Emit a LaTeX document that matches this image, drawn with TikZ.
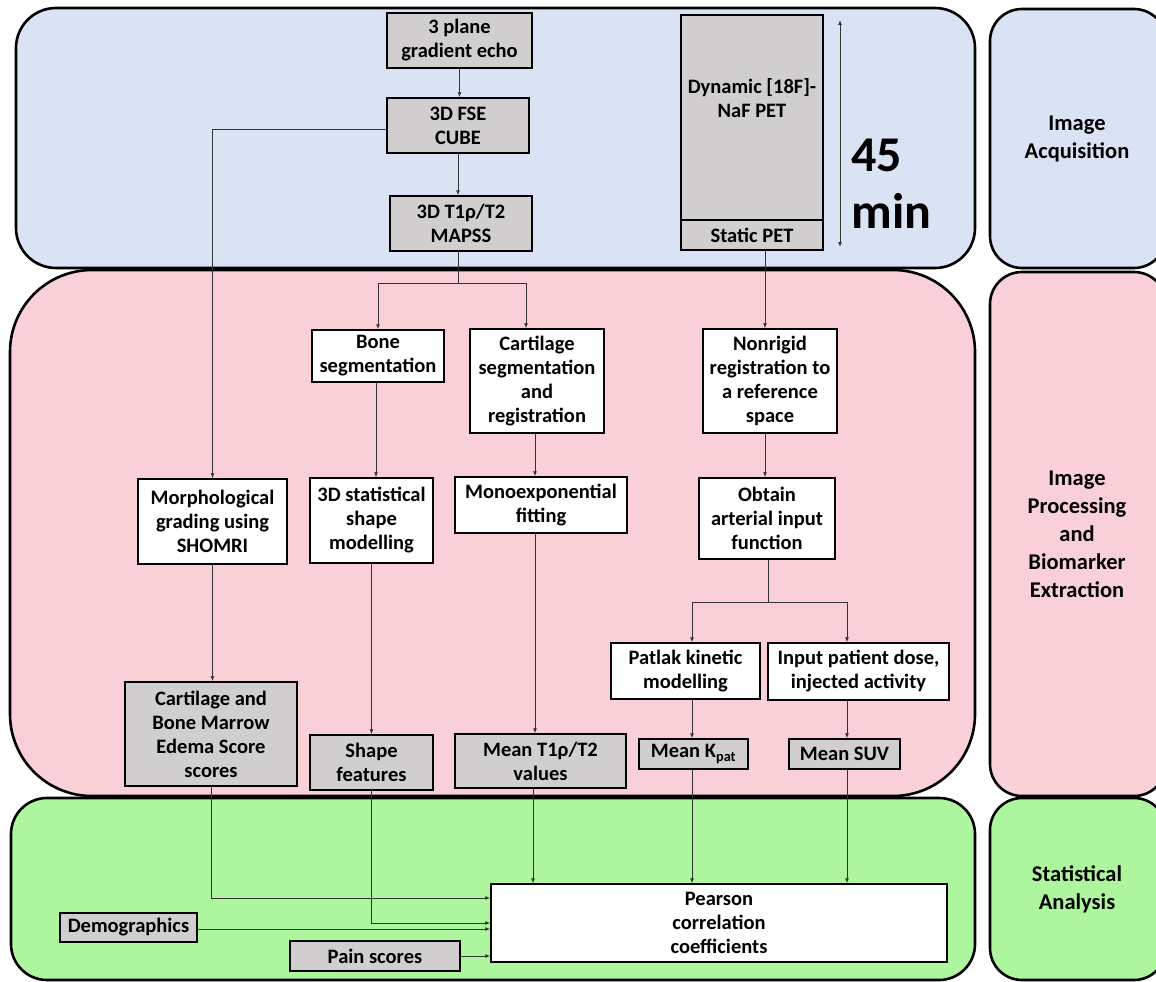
\documentclass[tikz,border=0pt]{standalone}
\usepackage{fontspec}
\setmainfont{Carlito}
\usetikzlibrary{arrows.meta,calc}
\definecolor{acqblue}{HTML}{DAE3F3}
\definecolor{procpink}{HTML}{F9D0D7}
\definecolor{statgreen}{HTML}{AEF69E}
\definecolor{boxgray}{HTML}{D0CECE}
\newcommand\mkbox[7]{\node[#2,minimum width={(#5-#3)*1pt},minimum height={(#6-#4)*1pt}] (#1) at ({(#3+#5)/2},{(#4+#6)/2}) {#7};}
\begin{document}
\begin{tikzpicture}[x=1pt,y=-1pt,
  panel/.style={draw=black,line width=2.6pt},
  wbox/.style={draw=black,line width=1.5pt,fill=white,align=center,inner sep=0pt,font=\bfseries\fontsize{20.5}{24}\selectfont},
  gbox/.style={wbox,fill=boxgray},
  conn/.style={draw=black!80,line width=0.9pt},
  arr/.style={conn,-{Latex[length=5pt,width=4pt]}},
  side/.style={align=center,font=\bfseries\fontsize{22.5}{28}\selectfont}]
\useasboundingbox (0,0) rectangle (1156,982);
% panels
\draw[panel,fill=procpink,rounded corners=82] (10,270) rectangle (975,796);
\draw[panel,fill=acqblue,rounded corners=40] (16,8) rectangle (975,268);
\draw[panel,fill=statgreen,rounded corners=36] (11,798) rectangle (975,980);
\draw[panel,fill=procpink,rounded corners=32] (990,272) rectangle (1166,796);
\draw[panel,fill=acqblue,rounded corners=32] (990,9) rectangle (1166,268);
\draw[panel,fill=statgreen,rounded corners=32] (990,798) rectangle (1166,980);
\node[side] (lacq) at (1077,139) {Image\\Acquisition};
\node[side] (lproc) at (1077,534) {Image\\Processing\\and\\Biomarker\\Extraction};
\node[side] (lstat) at (1077,889) {Statistical\\Analysis};
% acquisition
\mkbox{ge}{gbox}{387}{13}{532}{68}{3 plane\\gradient echo}
\mkbox{fse}{gbox}{387}{98}{529}{153}{3D FSE\\CUBE}
\mkbox{mapss}{gbox}{390}{196}{532}{251}{3D T1ρ/T2\\MAPSS}
\mkbox{dyn}{gbox}{681}{15}{823}{220}{}
\node[align=center,font=\bfseries\fontsize{20.5}{24}\selectfont] (dyntext) at (752,98) {Dynamic [18F]-\\NaF PET};
\mkbox{static}{gbox}{681}{220}{823}{250}{Static PET}
\coordinate (t0) at (840,20);
\coordinate (t1) at (840,247);
\draw[conn,{Latex[length=5pt,width=4pt]}-{Latex[length=5pt,width=4pt]}] (t0) -- (t1);
\node[anchor=west,align=left,font=\bfseries\fontsize{50}{57}\selectfont] (dur) at (848,184) {45\\min};
% processing
\mkbox{bone}{wbox}{312}{330}{444}{382}{Bone\\segmentation}
\mkbox{cart}{wbox}{470}{329}{604}{433}{Cartilage\\segmentation\\and\\registration}
\mkbox{nonrigid}{wbox}{703}{329}{837}{433}{Nonrigid\\registration to\\a reference\\space}
\mkbox{morph}{wbox}{138}{479}{287}{564}{Morphological\\grading using\\SHOMRI}
\mkbox{stat}{wbox}{310}{478}{433}{563}{3D statistical\\shape\\modelling}
\mkbox{mono}{wbox}{455}{477}{627}{533}{Monoexponential\\fitting}
\mkbox{obtain}{wbox}{699}{478}{835}{559}{Obtain\\arterial input\\function}
\mkbox{patlak}{wbox}{611}{643}{760}{699}{Patlak kinetic\\modelling}
\mkbox{input}{wbox}{768}{643}{949}{700}{Input patient dose,\\injected activity}
\mkbox{cbme}{gbox}{125}{682}{297}{786}{Cartilage and\\Bone Marrow\\Edema Score\\scores}
\mkbox{shape}{gbox}{310}{735}{433}{790}{Shape\\features}
\mkbox{meant}{gbox}{455}{734}{626}{788}{Mean T1ρ/T2\\values}
\mkbox{kpat}{gbox}{639}{739}{748}{769}{Mean K\textsubscript{pat}}
\mkbox{suv}{gbox}{789}{739}{900}{769}{Mean SUV}
% statistics
\mkbox{pearson}{wbox}{491}{884}{947}{962}{Pearson\\correlation\\coefficients}
\mkbox{demo}{gbox}{60}{913}{197}{942}{Demographics}
\mkbox{pain}{gbox}{290}{941}{460}{971}{Pain scores}
% helper coordinates
\coordinate (sp1) at (458,283);
\coordinate (sp2) at (768,602);
\coordinate (c3a) at (535,0);
\coordinate (c3b) at (533,0);
\coordinate (c4) at (765,0);
\coordinate (c5) at (692,0);
\coordinate (c6) at (847,0);
\coordinate (r1) at (0,898);
\coordinate (r2) at (0,923);
\coordinate (r3) at (0,929);
% connectors
\draw[arr] (ge.south) -- (ge.south |- fse.north);
\draw[arr] (fse.south) -- (fse.south |- mapss.north);
\draw[conn] (sp1 |- mapss.south) -- (sp1);
\draw[arr] (sp1) -| (bone.north);
\draw[arr] (sp1) -| ([xshift=-11pt]cart.north);
\draw[arr] ([yshift=-4pt]fse.west) -| (morph.north);
\draw[arr] (morph.south) -- (morph.south |- cbme.north);
\draw[arr] ([xshift=-2pt]bone.south) -- ([xshift=-2pt]bone.south |- stat.north);
\draw[arr] (stat.south) -- (stat.south |- shape.north);
\draw[arr] (c3a |- cart.south) -- (c3a |- mono.north);
\draw[arr] (c3a |- mono.south) -- (c3a |- meant.north);
\draw[arr] (c3b |- meant.south) -- (c3b |- pearson.north);
\draw[arr] (c4 |- static.south) -- (c4 |- nonrigid.north);
\draw[arr] (c4 |- nonrigid.south) -- (c4 |- obtain.north);
\draw[conn] (sp2 |- obtain.south) -- (sp2);
\draw[arr] (sp2) -| (c5 |- patlak.north);
\draw[arr] (sp2) -| (c6 |- input.north);
\draw[arr] (c5 |- patlak.south) -- (c5 |- kpat.north);
\draw[arr] (c6 |- input.south) -- (c6 |- suv.north);
\draw[arr] (c5 |- kpat.south) -- (c5 |- pearson.north);
\draw[arr] (c6 |- suv.south) -- (c6 |- pearson.north);
\draw[arr] (cbme.south) |- (pearson.west |- r1);
\draw[arr] (shape.south) |- (pearson.west |- r2);
\draw[arr] (demo.east |- r3) -- (pearson.west |- r3);
\draw[arr] (pain.east) -- (pearson.west |- pain.east);
\end{tikzpicture}
\end{document}
